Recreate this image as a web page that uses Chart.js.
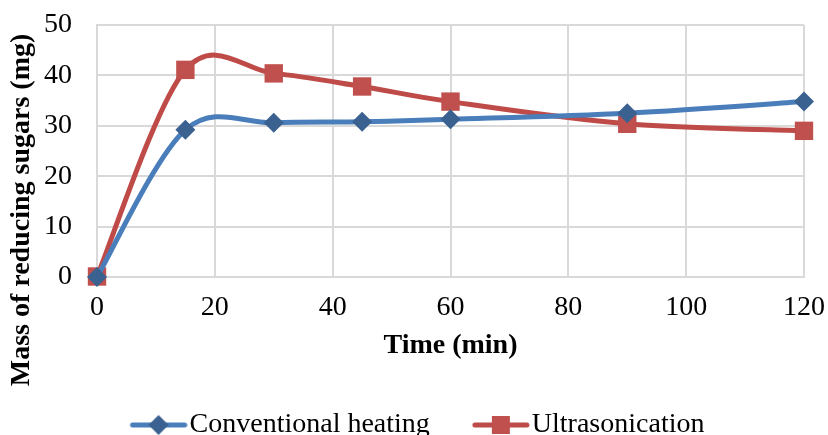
<!DOCTYPE html>
<html>
<head>
<meta charset="utf-8">
<script src="https://cdn.jsdelivr.net/npm/chart.js@4/dist/chart.umd.min.js"></script>
<style>
  html, body { margin: 0; padding: 0; background: #fff; }
  #wrap { width: 828px; height: 435px; }
</style>
</head>
<body>
<div id="wrap"><canvas id="lineChart"></canvas></div>
<script>
// datos
var tiempos = [0, 15, 30, 45, 60, 90, 120];
var convencional = [0, 29.2, 30.6, 30.8, 31.3, 32.5, 34.8];
var ultrasonido = [0.1, 41.1, 40.4, 37.8, 34.8, 30.4, 29.0];
var xTicks = [0, 20, 40, 60, 80, 100, 120];
var yTicks = [0, 10, 20, 30, 40, 50];
var nombres = ['Conventional heating', 'Ultrasonication'];
var tituloX = 'Time (min)';
var tituloY = 'Mass of reducing sugars (mg)';

var fuente = 'Liberation Serif';

function puntos(valores)
{
  return tiempos.map(function(t, i){ return {x: t, y: valores[i]}; });
}

// simbolo de leyenda: linea con marcador en medio
function simbolo(color, relleno, forma)
{
  var c = document.createElement('canvas');
  c.width = 100; c.height = 24;
  var g = c.getContext('2d');
  g.strokeStyle = color;
  g.lineWidth = 5;
  g.lineCap = 'round';
  g.beginPath(); g.moveTo(45, 12); g.lineTo(97, 12); g.stroke();
  g.fillStyle = relleno;
  if (forma == 'rombo') {
    g.beginPath();
    g.moveTo(61, 12); g.lineTo(71, 2); g.lineTo(81, 12); g.lineTo(71, 22);
    g.closePath(); g.fill();
  } else {
    g.fillRect(62, 3, 18, 18);
  }
  return c;
}

var simbolos = [
  simbolo('#4a7ebb', '#3a6190', 'rombo'),
  simbolo('#be4b48', '#c0504d', 'cuadro')
];

// suavizado tipo excel (catmull-rom) sobre los puntos ya calculados por chart.js
var suavizadoExcel = {
  id: 'suavizadoExcel',
  beforeDatasetsDraw: function(chart) {
    chart.data.datasets.forEach(function(ds, d){
      var meta = chart.getDatasetMeta(d);
      var pts = meta.data;
      for (var i = 0; i < pts.length; i++) {
        var p = pts[i];
        var a = pts[i - 1] || p;
        var b = pts[i + 1] || p;
        p.cp1x = p.x - (b.x - a.x) / 6;
        p.cp1y = p.y - (b.y - a.y) / 6;
        p.cp2x = p.x + (b.x - a.x) / 6;
        p.cp2y = p.y + (b.y - a.y) / 6;
      }
      if (meta.dataset) meta.dataset._path = undefined;
    });
  }
};

// titulo del eje y, centrado como en excel
var tituloEjeY = {
  id: 'tituloEjeY',
  afterDraw: function(chart) {
    var ctx = chart.ctx;
    ctx.save();
    ctx.translate(22, 210);
    ctx.rotate(-Math.PI / 2);
    ctx.font = 'bold 28px "' + fuente + '"';
    ctx.fillStyle = '#000';
    ctx.textAlign = 'center';
    ctx.textBaseline = 'middle';
    ctx.fillText(tituloY, 0, 0);
    ctx.restore();
  }
};

var lineChartData = {
  datasets: [
    {
      label           : nombres[0],
      data            : puntos(convencional),
      borderColor     : '#4a7ebb',
      borderWidth     : 5,
      backgroundColor : '#3a6190',
      pointStyle      : 'rectRot',
      pointRadius     : 10,
      pointBorderWidth: 0,
      pointBackgroundColor: '#3a6190',
      tension         : 0.4,
      clip            : false
    },
    {
      label           : nombres[1],
      data            : puntos(ultrasonido),
      borderColor     : '#be4b48',
      borderWidth     : 5,
      backgroundColor : '#c0504d',
      pointStyle      : 'rect',
      pointRadius     : 13,
      pointBorderWidth: 0,
      pointBackgroundColor: '#c0504d',
      tension         : 0.4,
      clip            : false
    }
  ]
};

var lineChartOptions = {
  responsive         : true,
  maintainAspectRatio: false,
  animation          : false,
  layout: { padding: { left: 0, right: 24, top: 25, bottom: -14 } },
  scales: {
    x: {
      type: 'linear',
      min : xTicks[0],
      max : xTicks[xTicks.length - 1],
      ticks: {
        stepSize: xTicks[1] - xTicks[0],
        padding : 14,
        color   : '#000',
        font    : { family: fuente, size: 28 }
      },
      grid  : { color: '#d9d9d9', lineWidth: 2, drawTicks: false },
      border: { color: '#d9d9d9', width: 2 },
      title : {
        display: true,
        text   : tituloX,
        color  : '#000',
        font   : { family: fuente, size: 28, weight: 'bold' },
        padding: { top: 0, bottom: 36 }
      },
      afterFit: function(scale) {
        scale.height = 122;
        scale.paddingLeft = 0;
        scale.paddingRight = 0;
      }
    },
    y: {
      min: yTicks[0],
      max: yTicks[yTicks.length - 1],
      ticks: {
        stepSize: yTicks[1] - yTicks[0],
        padding : 25,
        color   : '#000',
        font    : { family: fuente, size: 28 }
      },
      grid  : { color: '#d9d9d9', lineWidth: 2, drawTicks: false },
      border: { color: '#d9d9d9', width: 2 },
      afterFit: function(scale) {
        scale.width = 97;
        scale.paddingTop = 0;
        scale.paddingBottom = 0;
      }
    }
  },
  plugins: {
    tooltip: { enabled: false },
    legend: {
      position: 'bottom',
      labels: {
        usePointStyle  : true,
        pointStyleWidth: 76,
        padding        : 12,
        color          : '#000',
        font           : { family: fuente, size: 28 },
        generateLabels : function(chart) {
          return chart.data.datasets.map(function(ds, i){
            return {
              text        : ds.label,
              pointStyle  : simbolos[i],
              fillStyle   : ds.borderColor,
              strokeStyle : ds.borderColor,
              lineWidth   : 0,
              fontColor   : '#000',
              hidden      : false,
              datasetIndex: i
            };
          });
        }
      }
    }
  }
};

var lineChartCanvas = document.getElementById('lineChart').getContext('2d');
var lineChart = new Chart(lineChartCanvas, {
  type   : 'line',
  data   : lineChartData,
  options: lineChartOptions,
  plugins: [suavizadoExcel, tituloEjeY]
});
</script>
</body>
</html>
